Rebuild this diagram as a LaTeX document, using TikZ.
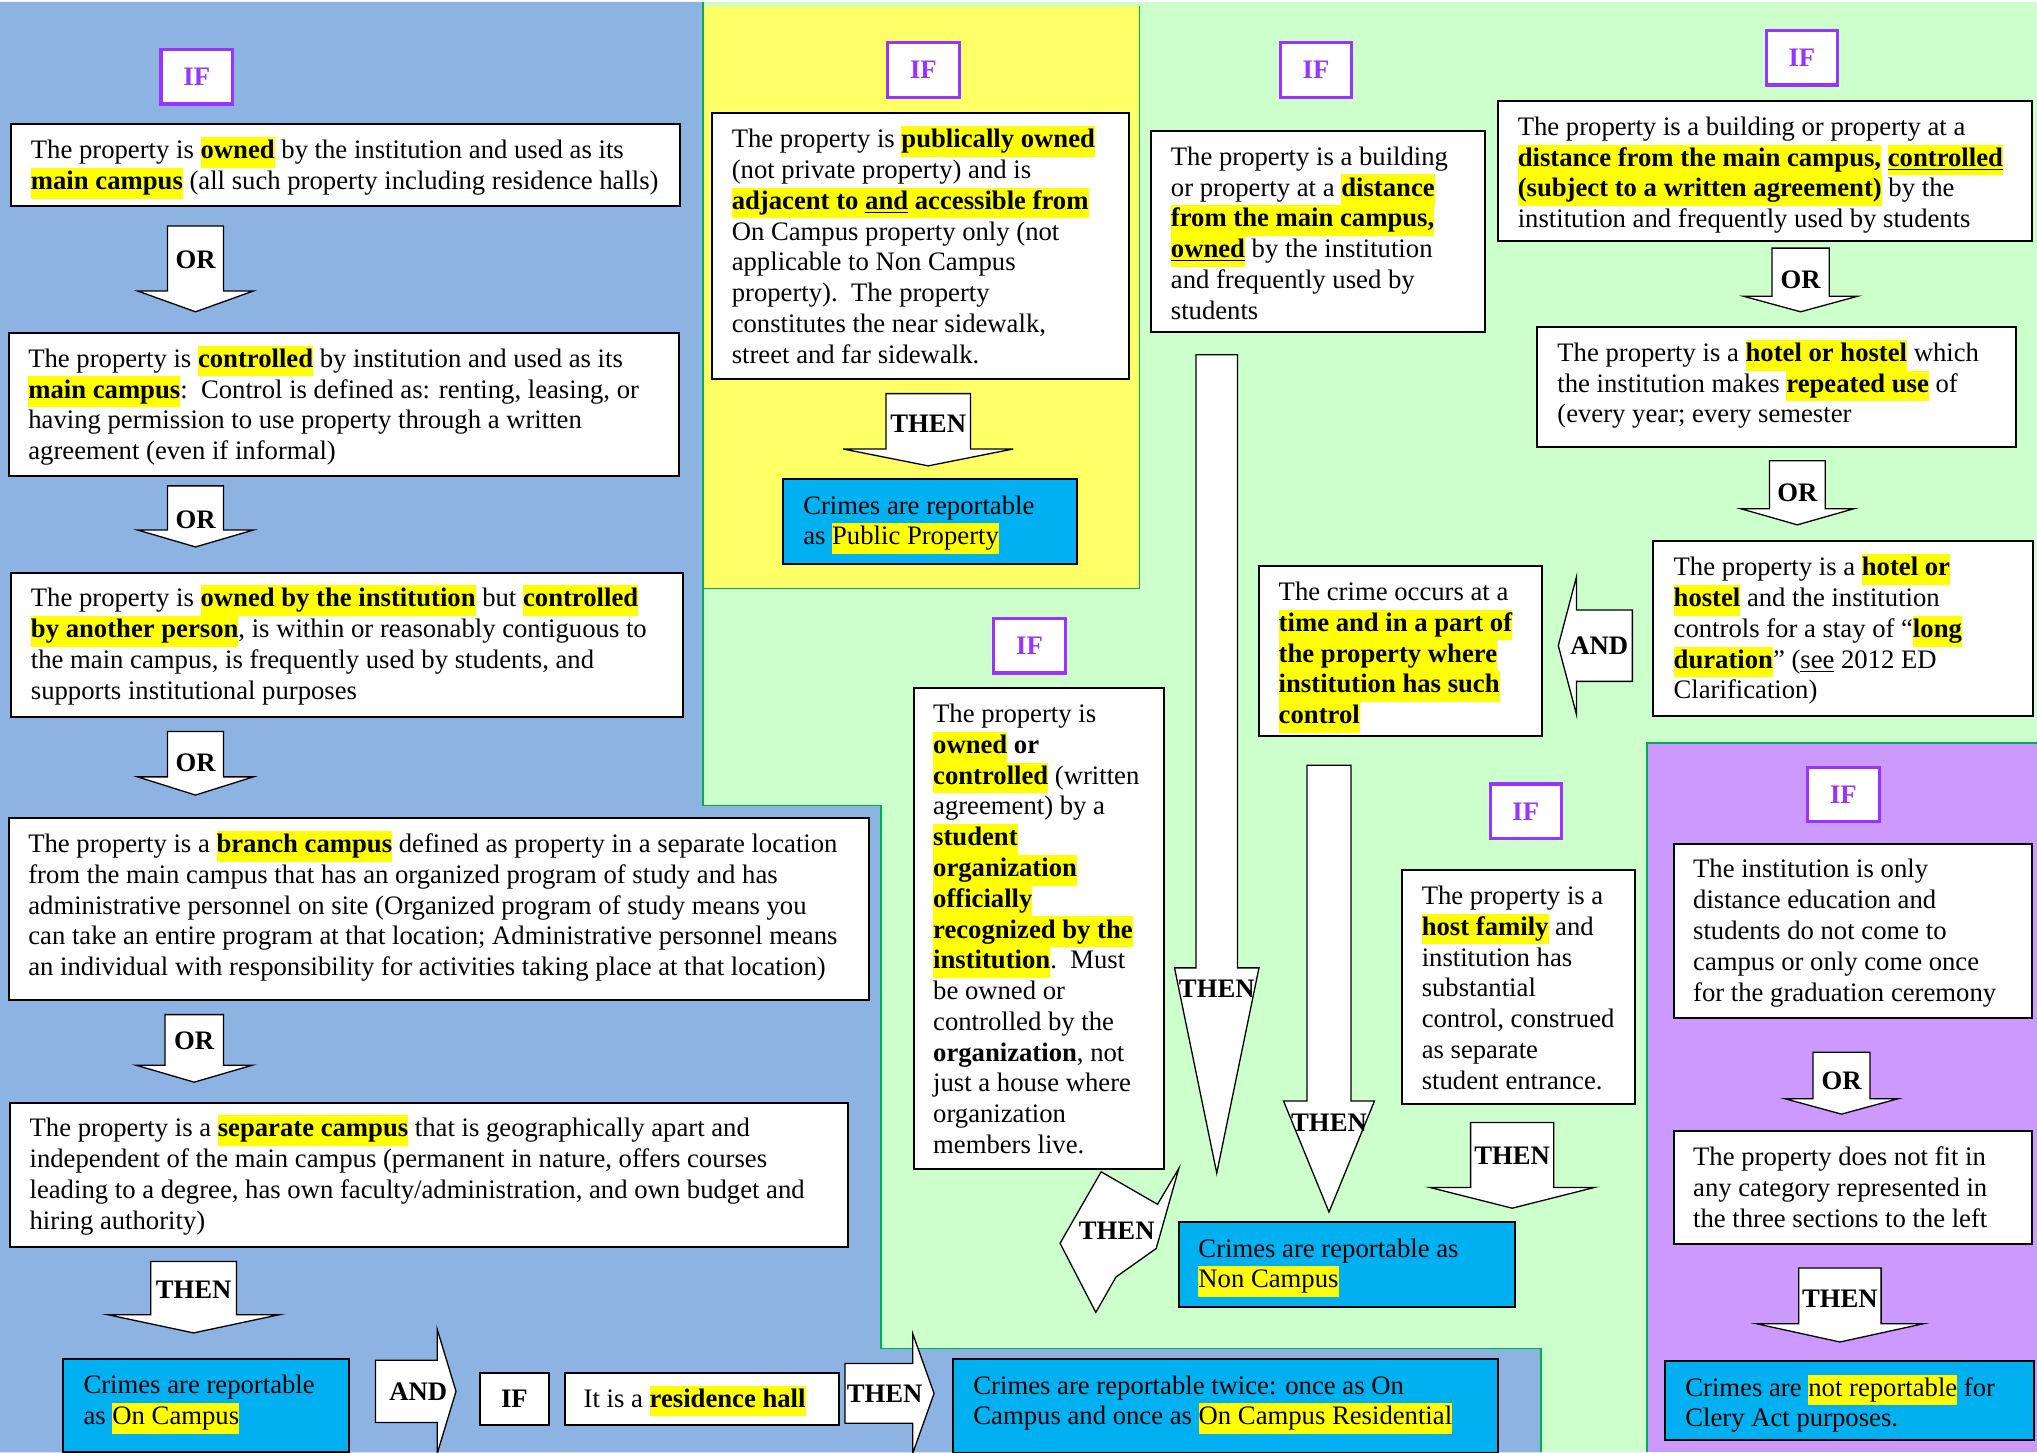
\documentclass[tikz,border=0pt]{standalone}
\usepackage{fontspec}
\setmainfont{Liberation Serif}
\usepackage{xcolor}

\definecolor{bluebg}{HTML}{8DB3E2}
\definecolor{greenbg}{HTML}{CCFFCC}
\definecolor{yellowbg}{HTML}{FFFF66}
\definecolor{purplebg}{HTML}{CC99FF}
\definecolor{edgegreen}{HTML}{00B050}
\definecolor{resultcyan}{HTML}{00B0F0}
\definecolor{ifpurple}{HTML}{9933FF}
\definecolor{hlyel}{HTML}{FFFF00}

\newcommand{\pxl}{0.65pt}
\newcommand{\bodyfont}{\fontsize{13.35}{15.4}\selectfont}
\newcommand{\hlt}[1]{{\setlength{\fboxsep}{0pt}\colorbox{hlyel}{\strut#1}}}
\newcommand{\hlb}[1]{\hlt{\textbf{#1}}}

% block arrow pointing down: name, cx, top, shoulder, tip, shaft half, head half, label, label y
\newcommand{\downblock}[9]{%
  \draw[blockarr] (#2-#6,#3) -- (#2+#6,#3) -- (#2+#6,#4) -- (#2+#7,#4) -- (#2,#5)
    -- (#2-#7,#4) -- (#2-#6,#4) -- cycle;
  \node[arrlbl] (#1) at (#2,#9) {#8};}
% block arrow pointing sideways: name, tail x, shoulder x, tip x, cy, shaft half, head half, label, label x
\newcommand{\sideblock}[9]{%
  \draw[blockarr] (#2,#5-#6) -- (#3,#5-#6) -- (#3,#5-#7) -- (#4,#5) -- (#3,#5+#7)
    -- (#3,#5+#6) -- (#2,#5+#6) -- cycle;
  \node[arrlbl] (#1) at (#9,#5) {#8};}

\begin{document}
\begin{tikzpicture}[
    x=\pxl, y=-\pxl,
    tbox/.style 2 args={draw, fill=white, line width=1pt, minimum width=#1*\pxl,
      minimum height=#2*\pxl, anchor=north west, inner sep=0pt},
    resbox/.style 2 args={tbox={#1}{#2}, fill=resultcyan},
    txt/.style={anchor=north west, align=left, inner sep=0pt, font=\bodyfont},
    ifbox/.style={draw=ifpurple, line width=1.6pt, fill=white, text=ifpurple,
      font=\bodyfont\bfseries, minimum width=55*\pxl, minimum height=42*\pxl, inner sep=0pt},
    blockarr/.style={draw, fill=white, line width=0.65pt, line join=miter},
    arrlbl/.style={font=\bodyfont\bfseries, inner sep=0pt},
    zone/.style={draw=edgegreen, line width=0.8pt},
  ]
  \useasboundingbox (0,0) rectangle (1568,1118);

  % ===== BACKGROUND ZONES =====
  \fill[greenbg] (541,1.5) rectangle (1568,1118);
  \fill[bluebg] (0,1.5) -- (541,1.5) -- (541,620) -- (678,620) -- (678,1038)
    -- (1186,1038) -- (1186,1118) -- (0,1118) -- cycle;
  \draw[zone] (541,1.5) -- (541,620) -- (678,620) -- (678,1038) -- (1186,1038) -- (1186,1118);
  \fill[yellowbg] (541,4.5) rectangle (877,453);
  \draw[zone] (541,4.5) -- (541,453) -- (877,453) -- (877,4.5);
  \fill[purplebg] (1268,572) rectangle (1568,1118);
  \draw[zone] (1268,1118) -- (1268,572) -- (1568,572);

  % ===== LEFT ZONE: On Campus =====
  \node[ifbox] (ifcampus) at (151.5,59) {IF};
  \node[tbox={515}{63}] (owned) at (8,95) {};
  \node[txt] (ownedtxt) at ([shift={(15.5,10.3)}]owned.north west)
    {\strut The property is \hlb{owned} by the institution and used as its\\
     \hlb{main campus} (all such property including residence halls)};
  \downblock{or1}{150.5}{174}{224}{240}{21.5}{44.5}{OR}{200}

  \node[tbox={516}{110}] (ctrl) at (6,255.5) {};
  \node[txt] (ctrltxt) at ([shift={(15.5,10.3)}]ctrl.north west)
    {\strut The property is \hlb{controlled} by institution and used as its\\
     \hlb{main campus}:\ \ Control is defined as: renting, leasing, or\\
     having permission to use property through a written\\
     agreement (even if informal)};
  \downblock{or2}{150.5}{374}{408}{421}{21.5}{44.5}{OR}{400}

  \node[tbox={517}{111}] (other) at (8,440) {};
  \node[txt] (othertxt) at ([shift={(15.5,10.3)}]other.north west)
    {\strut The property is \hlb{owned by the institution} but \hlb{controlled}\\
     \hlb{by another person}, is within or reasonably contiguous to\\
     the main campus, is frequently used by students, and\\
     supports institutional purposes};
  \downblock{or3}{150.5}{563}{598}{612}{21.5}{44.5}{OR}{587}

  \node[tbox={662}{140}] (branch) at (6,629) {};
  \node[txt] (branchtxt) at ([shift={(15.5,10.3)}]branch.north west)
    {\strut The property is a \hlb{branch campus} defined as property in a separate location\\
     from the main campus that has an organized program of study and has\\
     administrative personnel on site (Organized program of study means you\\
     can take an entire program at that location; Administrative personnel means\\
     an individual with responsibility for activities taking place at that location)};
  \downblock{or4}{149.5}{781}{820}{833}{22.5}{44.5}{OR}{801}

  \node[tbox={645}{111}] (separate) at (7,848) {};
  \node[txt] (separatetxt) at ([shift={(15.5,10.3)}]separate.north west)
    {\strut The property is a \hlb{separate campus} that is geographically apart and\\
     independent of the main campus (permanent in nature, offers courses\\
     leading to a degree, has own faculty/administration, and own budget and\\
     hiring authority)};
  \downblock{thencampus}{149}{971}{1012}{1026}{33}{66}{THEN}{993}

  \node[resbox={220}{72}] (oncampus) at (48,1045) {};
  \node[txt] (oncampustxt) at ([shift={(16,10.8)}]oncampus.north west)
    {\strut Crimes are reportable\\ as \hlt{On Campus}};
  \sideblock{andhall}{289}{336.5}{351}{1071}{24}{48}{AND}{322}
  \node[ifbox, draw=black, text=black, line width=1pt, minimum width=53.5*\pxl,
    minimum height=40*\pxl] (ifhall) at (396,1077) {IF};
  \node[tbox={211}{40}] (hall) at (434,1056) {};
  \node[txt] (halltxt) at ([shift={(15,10.3)}]hall.north west)
    {\strut It is a \hlb{residence hall}};
  \sideblock{thenhall}{650.5}{702.6}{719}{1072.6}{23}{46}{THEN}{681}
  \node[resbox={419}{72}] (twice) at (733,1045.5) {};
  \node[txt] (twicetxt) at ([shift={(16,10.8)}]twice.north west)
    {\strut Crimes are reportable twice: once as On\\
     Campus and once as \hlt{On Campus Residential}};

  % ===== YELLOW ZONE: Public Property =====
  \node[ifbox] (ifpublic) at (710.8,53.8) {IF};
  \node[tbox={321}{204.5}] (public) at (547,86.5) {};
  \node[txt] (publictxt) at ([shift={(16,10.3)}]public.north west)
    {\strut The property is \hlb{publically owned}\\
     (not private property) and is\\
     \hlb{adjacent to \underline{and} accessible from}\\
     On Campus property only (not\\
     applicable to Non Campus\\
     property).\ \ The property\\
     constitutes the near sidewalk,\\
     street and far sidewalk.};
  \downblock{thenpublic}{714.5}{303}{345.6}{358.6}{32.5}{65.5}{THEN}{326}
  \node[resbox={226}{65}] (pubres) at (602,368) {};
  \node[txt] (pubrestxt) at ([shift={(16,10.8)}]pubres.north west)
    {\strut Crimes are reportable\\ as \hlt{Public Property}};

  % ===== GREEN ZONE: Non Campus =====
  \node[ifbox] (ifowned) at (1013,54) {IF};
  \node[tbox={257}{155}] (distowned) at (885,100) {};
  \node[txt] (distownedtxt) at ([shift={(16,10.3)}]distowned.north west)
    {\strut The property is a building\\
     or property at a \hlb{distance}\\
     \hlb{from the main campus,}\\
     \hlb{\underline{owned}} by the institution\\
     and frequently used by\\
     students};
  \downblock{thenowned}{936.6}{273}{745}{903}{16}{32.5}{THEN}{761}

  \node[ifbox] (ifctrl) at (1387,44.5) {IF};
  \node[tbox={411}{108}] (distctrl) at (1152,77) {};
  \node[txt] (distctrltxt) at ([shift={(16,10.3)}]distctrl.north west)
    {\strut The property is a building or property at a\\
     \hlb{distance from the main campus,} \hlb{\underline{controlled}}\\
     \hlb{(subject to a written agreement)} by the\\
     institution and frequently used by students};
  \downblock{orctrl}{1386}{191}{228}{240}{22}{44}{OR}{215}

  \node[tbox={369}{92.6}] (hotel) at (1182,251) {};
  \node[txt] (hoteltxt) at ([shift={(16.5,10.3)}]hotel.north west)
    {\strut The property is a \hlb{hotel or hostel} which\\
     the institution makes \hlb{repeated use} of\\
     (every year; every semester};
  \downblock{orhotel}{1383.5}{354.7}{391.6}{404}{21.5}{43.5}{OR}{379}

  \node[tbox={292}{134}] (longstay) at (1272,416) {};
  \node[txt] (longstaytxt) at ([shift={(16,10.3)}]longstay.north west)
    {\strut The property is a \hlb{hotel or}\\
     \hlb{hostel} and the institution\\
     controls for a stay of “\hlb{long}\\
     \hlb{duration}” (\underline{see} 2012 ED\\
     Clarification)};
  \sideblock{andstay}{1256.5}{1213.5}{1199.5}{497}{27.5}{53}{AND}{1231}

  \node[tbox={217.5}{130.6}] (partof) at (968.5,435) {};
  \node[txt] (partoftxt) at ([shift={(15.5,10.3)}]partof.north west)
    {\strut The crime occurs at a\\
     \hlb{time and in a part of}\\
     \hlb{the property where}\\
     \hlb{institution has such}\\
     \hlb{control}};
  \downblock{thenpartof}{1023}{589}{847.5}{933}{17}{35}{THEN}{864}

  \node[ifbox] (iforg) at (792.5,497) {IF};
  \node[tbox={192}{370}] (org) at (703,529) {};
  \node[txt] (orgtxt) at ([shift={(15,10.3)}]org.north west)
    {\strut The property is\\
     \hlb{owned} \textbf{or}\\
     \hlb{controlled} (written\\
     agreement) by a\\
     \hlb{student}\\
     \hlb{organization}\\
     \hlb{officially}\\
     \hlb{recognized by the}\\
     \hlb{institution}.\ \ Must\\
     be owned or\\
     controlled by the\\
     \textbf{organization}, not\\
     just a house where\\
     organization\\
     members live.};
  \draw[blockarr] (847.6,902) -- (891,927) -- (907.4,899.4) -- (890,961) -- (859,983)
    -- (843.5,1010.2) -- (816,957) -- cycle;
  \node[arrlbl] (thenorg) at (859.6,947) {THEN};

  \node[ifbox] (ifhost) at (1174.5,624.5) {IF};
  \node[tbox={179}{180}] (host) at (1078.6,669) {};
  \node[txt] (hosttxt) at ([shift={(15.5,10.3)}]host.north west)
    {\strut The property is a\\
     \hlb{host family} and\\
     institution has\\
     substantial\\
     control, construed\\
     as separate\\
     student entrance.};
  \downblock{thenhost}{1164}{864}{914}{930}{32}{63.5}{THEN}{890}

  \node[resbox={259}{65}] (noncampus) at (906.7,940) {};
  \node[txt] (noncampustxt) at ([shift={(15.5,10.8)}]noncampus.north west)
    {\strut Crimes are reportable as\\ \hlt{Non Campus}};

  % ===== PURPLE ZONE: not reportable =====
  \node[ifbox] (ifnone) at (1419,611.5) {IF};
  \node[tbox={275.5}{134.4}] (online) at (1288,648.6) {};
  \node[txt] (onlinetxt) at ([shift={(15,10.3)}]online.north west)
    {\strut The institution is only\\
     distance education and\\
     students do not come to\\
     campus or only come once\\
     for the graduation ceremony};
  \downblock{oronline}{1417.5}{810}{845.7}{857.6}{22}{43.7}{OR}{832}

  \node[tbox={275.5}{86.6}] (nofit) at (1288,870) {};
  \node[txt] (nofittxt) at ([shift={(15,10.3)}]nofit.north west)
    {\strut The property does not fit in\\
     any category represented in\\
     the three sections to the left};
  \downblock{thennofit}{1416.3}{976}{1019}{1033}{31.7}{64}{THEN}{1000}

  \node[resbox={283.6}{61}] (noclery) at (1281,1047) {};
  \node[txt] (noclerytxt) at ([shift={(16,10.8)}]noclery.north west)
    {\strut Crimes are \hlt{not reportable} for\\ Clery Act purposes.};
\end{tikzpicture}
\end{document}
